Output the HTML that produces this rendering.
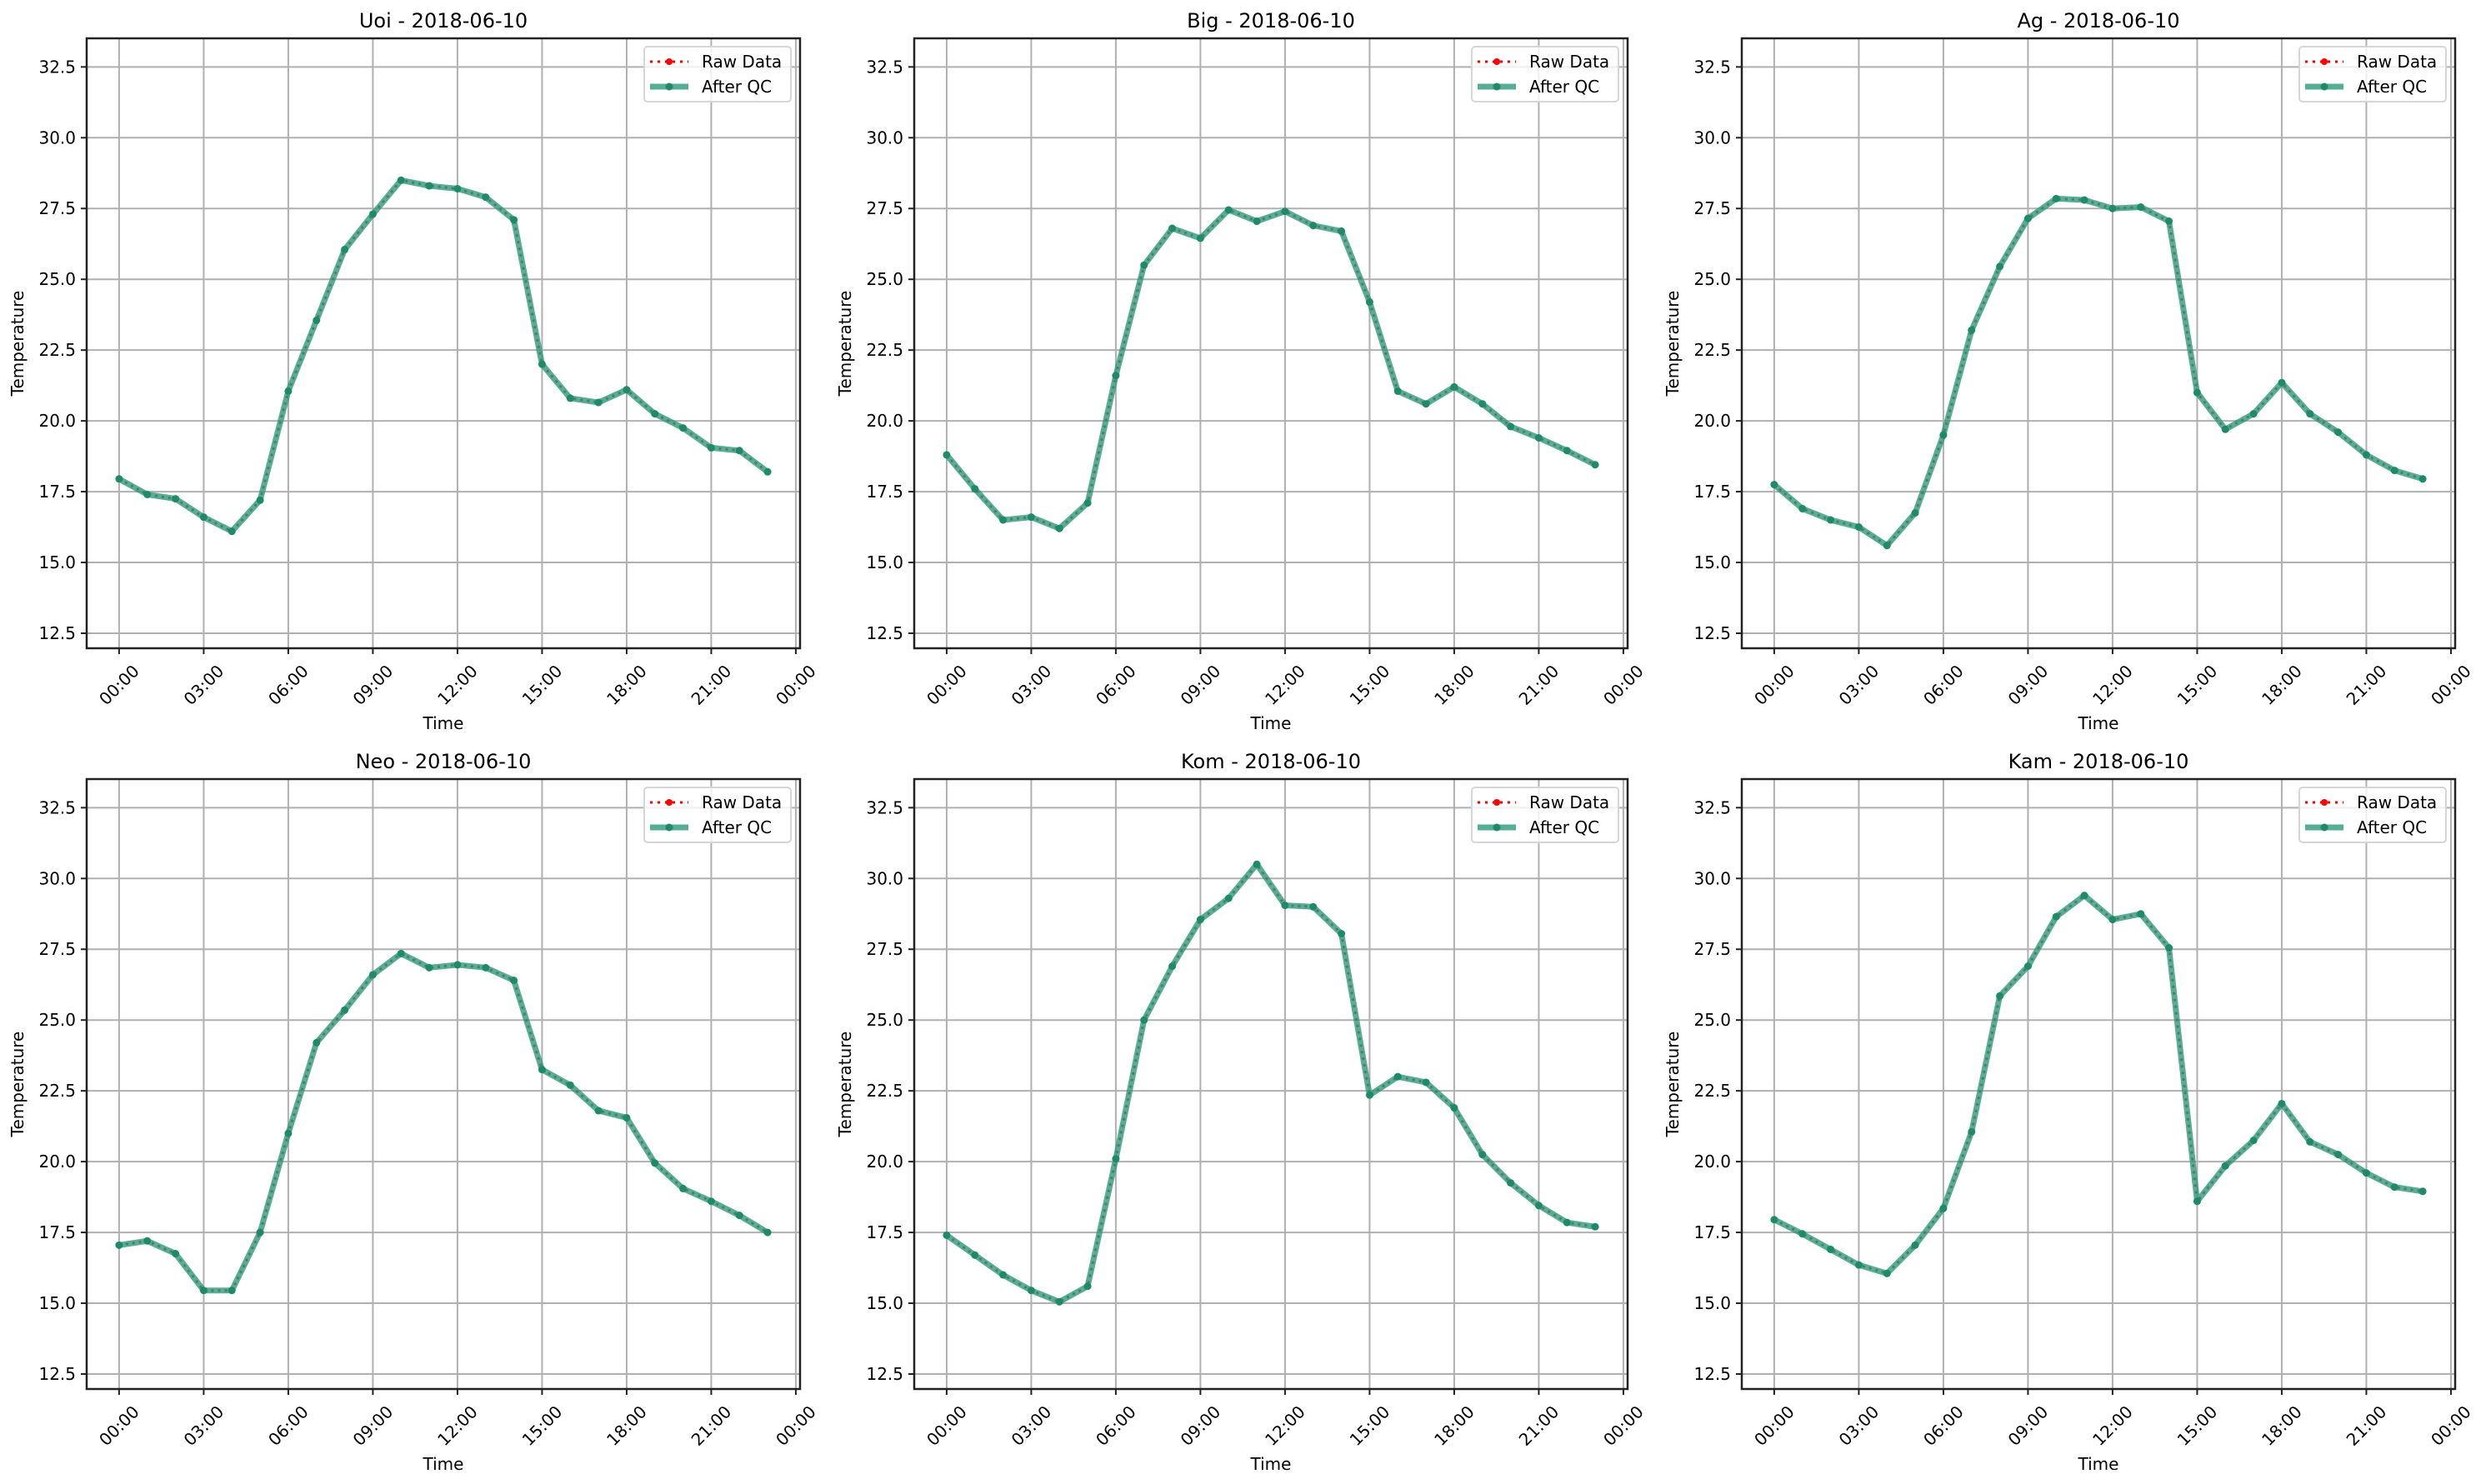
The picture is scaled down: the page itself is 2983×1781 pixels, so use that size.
<!DOCTYPE html>
<html><head><meta charset="utf-8"><style>
html,body{margin:0;padding:0;background:#fff;}
svg{display:block;font-family:"DejaVu Sans","Liberation Sans",sans-serif;}
</style></head><body>
<svg id="fig" width="2983" height="1781" viewBox="0 0 2983 1781" xmlns="http://www.w3.org/2000/svg"></svg>
<script>
const stations = ["Uoi","Big","Ag","Neo","Kom","Kam"];
const dateLabel = "2018-06-10";
const hours = [0,1,2,3,4,5,6,7,8,9,10,11,12,13,14,15,16,17,18,19,20,21,22,23];
const uoiTemps = [17.95,17.4,17.25,16.6,16.1,17.2,21.05,23.55,26.05,27.3,28.5,28.3,28.2,27.9,27.1,22.0,20.8,20.65,21.1,20.25,19.75,19.05,18.95,18.2];
const bigTemps = [18.8,17.6,16.5,16.6,16.2,17.1,21.6,25.5,26.8,26.45,27.45,27.05,27.4,26.9,26.7,24.2,21.05,20.6,21.2,20.6,19.8,19.4,18.95,18.45];
const agTemps = [17.75,16.9,16.5,16.25,15.6,16.75,19.5,23.2,25.45,27.15,27.85,27.8,27.5,27.55,27.05,21.0,19.7,20.25,21.35,20.25,19.6,18.8,18.25,17.95];
const neoTemps = [17.05,17.2,16.75,15.45,15.45,17.5,21.0,24.2,25.35,26.6,27.35,26.85,26.95,26.85,26.4,23.25,22.7,21.8,21.55,19.95,19.05,18.6,18.1,17.5];
const komTemps = [17.4,16.7,16.0,15.45,15.05,15.6,20.1,25.0,26.9,28.55,29.3,30.5,29.05,29.0,28.05,22.35,23.0,22.8,21.9,20.25,19.25,18.45,17.85,17.7];
const kamTemps = [17.95,17.45,16.9,16.35,16.05,17.05,18.35,21.05,25.85,26.9,28.65,29.4,28.55,28.75,27.55,18.6,19.85,20.75,22.05,20.7,20.25,19.6,19.1,18.95];
const yTicks = [12.5,15.0,17.5,20.0,22.5,25.0,27.5,30.0,32.5];
const xTicks = [0,3,6,9,12,15,18,21,24];
const xTickLabels = ["00:00","03:00","06:00","09:00","12:00","15:00","18:00","21:00","00:00"];
const yMin = 11.97, yMax = 33.51, xMin = -1.15, xMax = 24.15;

const allTemps = [uoiTemps,bigTemps,agTemps,neoTemps,komTemps,kamTemps];
const NS = "http://www.w3.org/2000/svg";
const fig = document.getElementById('fig');
function mk(tag, attrs, parent){const e=document.createElementNS(NS,tag);for(const k in attrs)e.setAttribute(k,attrs[k]);parent.appendChild(e);return e;}

const W = 856, H = 732, FS = 20;
for (let p=0;p<6;p++){
  const L = 104 + (p%3)*993, T = 46 + Math.floor(p/3)*889;
  const R = L+W, B = T+H;
  const sx = h => L + (h-xMin)/(xMax-xMin)*W;
  const sy = v => B - (v-yMin)/(yMax-yMin)*H;
  const g = mk('g',{},fig);
  
  
  xTicks.forEach(t=>{const l=mk('line',{x1:sx(t),x2:sx(t),y1:T,y2:B,stroke:'#b0b0b0','stroke-width':2},g);
    
    });
  yTicks.forEach(t=>{const l=mk('line',{x1:L,x2:R,y1:sy(t),y2:sy(t),stroke:'#b0b0b0','stroke-width':2},g);
    
    });
  const pts = hours.map((h,i)=>sx(h)+','+sy(allTemps[p][i])).join(' ');
  const raw = mk('polyline',{points:pts,fill:'none',stroke:'#ff0000','stroke-width':3,'stroke-dasharray':'3,5'},g);
  
  
  hours.forEach((h,i)=>{const c=mk('circle',{cx:sx(h),cy:sy(allTemps[p][i]),r:3.5,fill:'#ff0000'},g);
    
    });
  const qc = mk('polyline',{points:pts,fill:'none',stroke:'#2a9a7a','stroke-opacity':0.8,'stroke-width':7,'stroke-linejoin':'round'},g);
  
  
  hours.forEach((h,i)=>{const c=mk('circle',{cx:sx(h),cy:sy(allTemps[p][i]),r:4.5,fill:'#1f8a6a'},g);
    
    });
  const fr = mk('rect',{x:L,y:T,width:W,height:H,fill:'none',stroke:'#222','stroke-width':2.5},g);
  
  
  yTicks.forEach(t=>{
    mk('line',{x1:L-7,x2:L,y1:sy(t),y2:sy(t),stroke:'#222','stroke-width':2},g);
    const tx=mk('text',{x:L-13,y:sy(t)+7,'text-anchor':'end','font-size':FS,fill:'#000'},g);
    tx.textContent=t.toFixed(1);
    
    
  });
  xTicks.forEach((t,i)=>{
    mk('line',{x1:sx(t),x2:sx(t),y1:B,y2:B+7,stroke:'#222','stroke-width':2},g);
    const cx=sx(t), cy=B+44;
    const tx=mk('text',{x:cx,y:cy+7,'text-anchor':'middle','font-size':FS,fill:'#000',transform:`rotate(-45 ${cx} ${cy})`},g);
    tx.textContent=xTickLabels[i];
    
    
  });
  const title=mk('text',{x:(L+R)/2,y:T-13,'text-anchor':'middle','font-size':24,fill:'#000'},g);
  title.textContent=stations[p]+' - '+dateLabel;
  
  
  const xl=mk('text',{x:(L+R)/2,y:B+97,'text-anchor':'middle','font-size':FS,fill:'#000'},g);
  xl.textContent='Time';
  
  
  const yx=L-76, yy=(T+B)/2;
  const yl=mk('text',{x:yx,y:yy,'text-anchor':'middle','font-size':FS,fill:'#000',transform:`rotate(-90 ${yx} ${yy})`},g);
  yl.textContent='Temperature';
  
  
  const lg = mk('g',{},g);
  
  
  mk('rect',{x:R-187,y:T+10,width:176,height:66,rx:4,fill:'#fff','fill-opacity':0.8,stroke:'#d6d6d6','stroke-width':2},lg);
  const e1=mk('g',{},lg);
  
  
  mk('line',{x1:R-180,x2:R-134,y1:T+28,y2:T+28,stroke:'#ff0000','stroke-width':3,'stroke-dasharray':'3,6'},e1);
  mk('circle',{cx:R-157,cy:T+28,r:4,fill:'#ff0000'},e1);
  const t1=mk('text',{x:R-118,y:T+35,'font-size':FS,fill:'#000'},e1); t1.textContent='Raw Data';
  const e2=mk('g',{},lg);
  
  
  mk('line',{x1:R-180,x2:R-134,y1:T+58,y2:T+58,stroke:'#2a9a7a','stroke-opacity':0.8,'stroke-width':7},e2);
  mk('circle',{cx:R-157,cy:T+58,r:4.5,fill:'#1f8a6a'},e2);
  const t2=mk('text',{x:R-118,y:T+65,'font-size':FS,fill:'#000'},e2); t2.textContent='After QC';
}
</script>
</body></html>
